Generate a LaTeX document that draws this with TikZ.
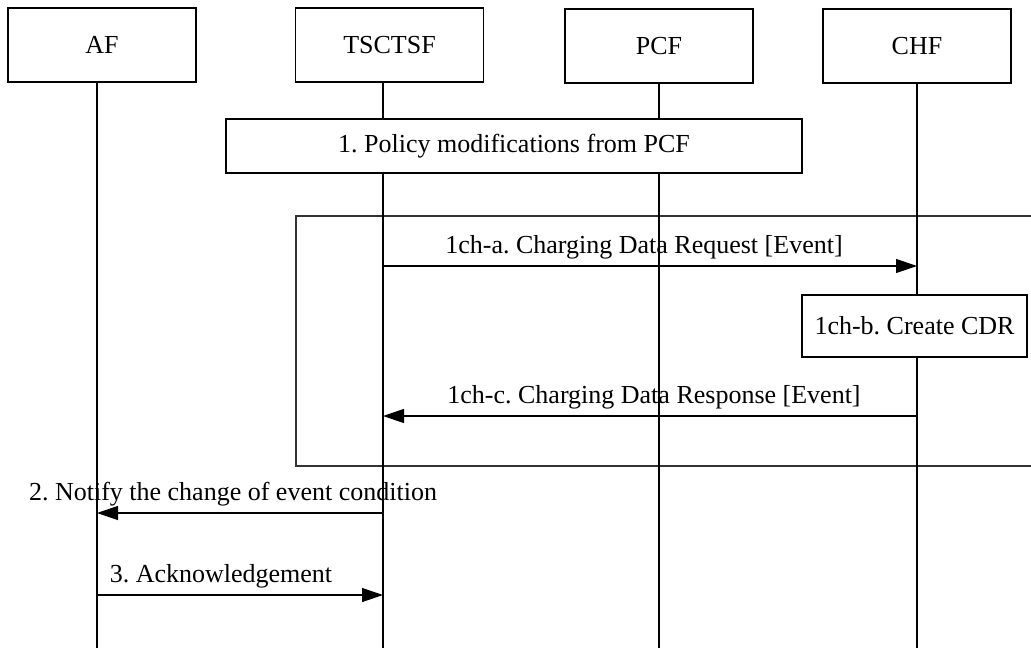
\documentclass[tikz,border=0pt]{standalone}
\usepackage{fontspec}
\setmainfont{Liberation Serif}
\usetikzlibrary{positioning,arrows.meta,calc}
\frenchspacing

\tikzset{
  entity/.style={draw, line width=0.7pt, minimum width=94pt, minimum height=37pt, inner sep=0pt},
  stepbox/.style={draw, fill=white, line width=0.7pt, inner sep=0pt},
  lifeline/.style={line width=0.75pt},
  msg/.style={line width=0.6pt, ->},
  frame/.style={draw=black!80, line width=0.6pt}
}

\begin{document}
\begin{tikzpicture}[x=0.5pt, y=-0.5pt,
    >={Triangle[length=10.5pt,width=7pt]},
    font=\fontsize{13}{15.5}\selectfont]

    \useasboundingbox (0,0) rectangle (1031,648);

    % frame of the charging steps (runs past the right edge)
    \draw[frame] (296,216) rectangle (1045,466);

    % entities
    \node[entity] (af) at (102,45) {AF};
    \node[entity] (tsctsf) at (389.5,45) {TSCTSF};
    \node[entity] (pcf) at (659,46) {PCF};
    \node[entity] (chf) at (917,46) {CHF};

    \coordinate (afEnd) at (97,648);
    \coordinate (tscEnd) at (383,648);
    \coordinate (pcfEnd) at (659,648);
    \coordinate (chfEnd) at (917,648);

    \draw[lifeline] (af.south -| afEnd) -- (afEnd);
    \draw[lifeline] (tsctsf.south -| tscEnd) -- (tscEnd);
    \draw[lifeline] (pcf.south -| pcfEnd) -- (pcfEnd);
    \draw[lifeline] (chf.south -| chfEnd) -- (chfEnd);

    % steps
    \node[stepbox, minimum width=288pt, minimum height=27pt] (policy) at (514,146)
        {1. Policy modifications from PCF};
    \node[stepbox, minimum width=112.5pt, minimum height=31pt] (cdr) at (914.5,326)
        {1ch-b. Create CDR};

    % messages
    \coordinate (reqS) at (383,266);
    \coordinate (reqE) at (917,266);
    \coordinate (rspS) at (917,416);
    \coordinate (rspE) at (383,416);
    \coordinate (ntfS) at (383,513);
    \coordinate (ntfE) at (97,513);
    \coordinate (ackS) at (97,595);
    \coordinate (ackE) at (383,595);

    \draw[msg] (reqS) -- (reqE) node[midway, above, xshift=-3pt] (reqL) {1ch-a. Charging Data Request [Event]};
    \draw[msg] (rspS) -- (rspE) node[midway, above, xshift=2pt] (rspL) {1ch-c. Charging Data Response [Event]};
    \draw[msg] (ntfS) -- (ntfE) node[midway, above, xshift=-3.5pt] (ntfL) {2. Notify the change of event condition};
    \draw[msg] (ackS) -- (ackE) node[midway, above, xshift=-9.5pt] (ackL) {3. Acknowledgement};

\end{tikzpicture}
\end{document}
